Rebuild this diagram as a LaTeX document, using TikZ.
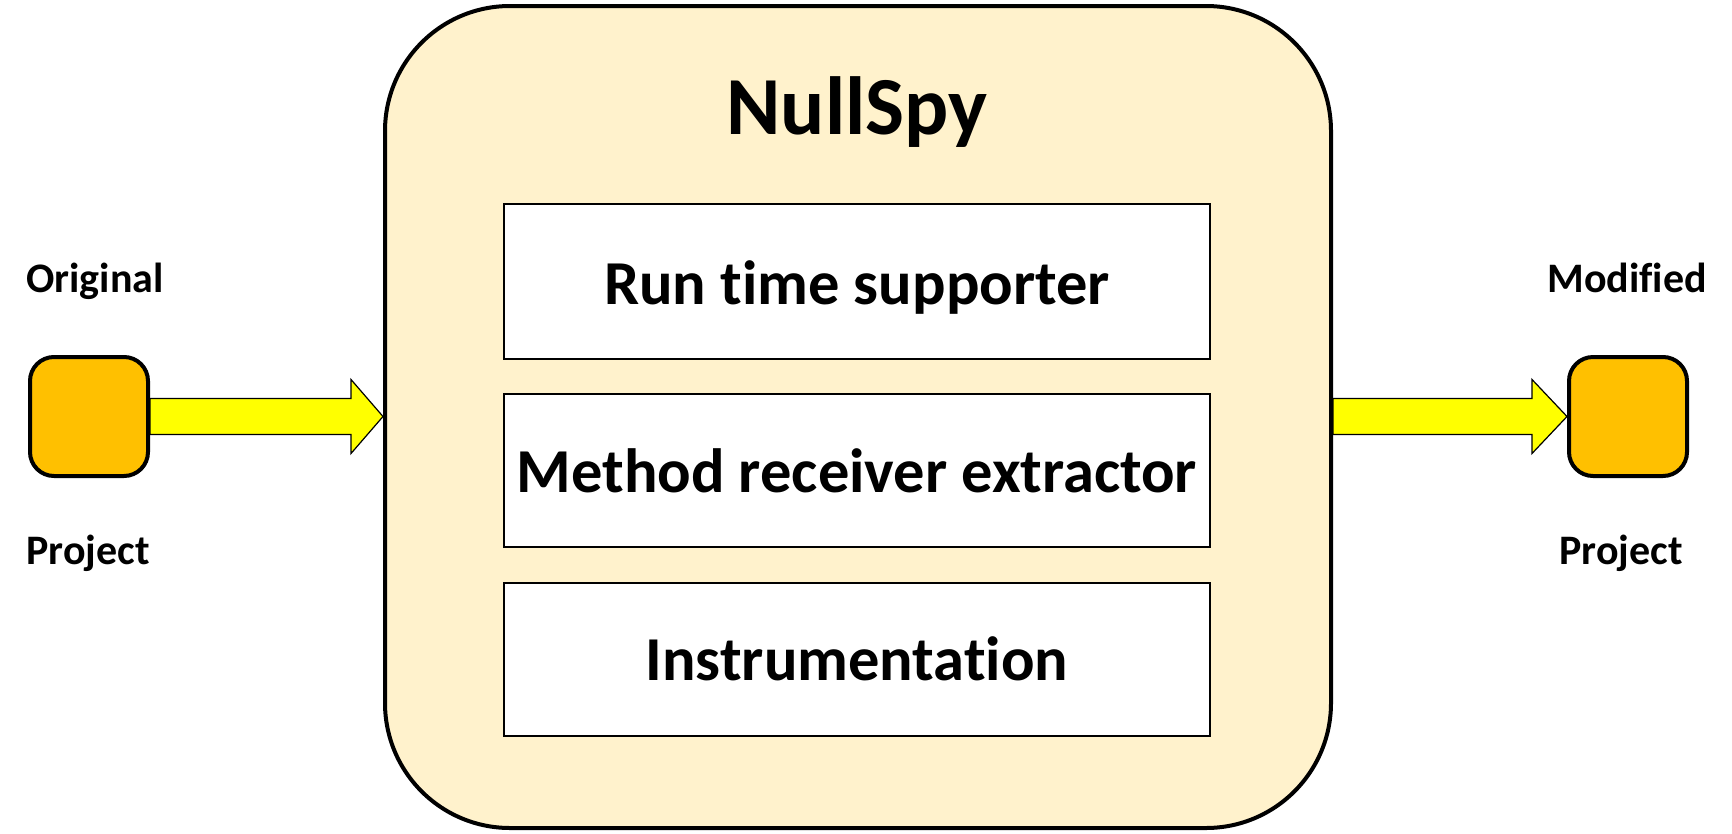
\documentclass[tikz,border=0pt]{standalone}
\usepackage{fontspec}
\setmainfont{Carlito}[Ligatures=NoCommon]
\usetikzlibrary{calc}
\definecolor{panel}{HTML}{FFF2CC}
\definecolor{project}{HTML}{FFC000}
\definecolor{flow}{HTML}{FFFF00}
\tikzset{
  toolbox/.style={draw=black, line width=4pt, fill=panel, rounded corners=125pt,
    minimum width=946pt, minimum height=822pt, inner sep=0pt, outer sep=0pt},
  stage/.style={draw=black, line width=1.6pt, fill=white, minimum width=706pt,
    minimum height=153pt, inner sep=0pt, outer sep=0pt},
  % text boxes sized to the cap height, so the node centre is the cap centre
  stagetext/.style={inner sep=0pt, text height=39.4pt, text depth=0pt,
    font=\fontsize{62.5pt}{68pt}\selectfont\bfseries},
  titletext/.style={inner sep=0pt, text height=52pt, text depth=0pt,
    font=\fontsize{82.5pt}{90pt}\selectfont\bfseries},
  projbox/.style={draw=black, line width=4pt, fill=project, rounded corners=24pt,
    minimum width=118pt, minimum height=119pt, inner sep=0pt, outer sep=0pt},
  caption/.style={inner sep=0pt, text height=26.5pt, text depth=0pt,
    font=\fontsize{42pt}{46pt}\selectfont\bfseries},
  flowarrow/.style={draw=black, line width=1.2pt, fill=flow, line join=miter},
}
\begin{document}
\begin{tikzpicture}[x=1pt,y=-1pt]
  \useasboundingbox (0,0) rectangle (1732,833);

  % central tool panel with its three stages
  \node[toolbox] (nullspy) at (858,417) {};
  \node[titletext] (title) at (857,108) {NullSpy};
  \node[stage, minimum height=155pt] (runtime) at (857,281.5) {};
  \node[stage] (extractor) at (857,470.5) {};
  \node[stage] (instr) at (857,659.5) {};
  \node[stagetext] (runtimetext) at (857,285) {Run time supporter};
  \node[stagetext] (extractortext) at (857,473) {Method receiver extractor};
  \node[stagetext] (instrtext) at (857,661) {Instrumentation};

  % input and output projects
  \node[projbox] (orig) at (89,416.5) {};
  \node[projbox] (mod) at (1628,416.5) {};
  \node[caption] (origtop) at (95,279.5) {Original};
  \node[caption] (origbot) at (88,551) {Project};
  \node[caption] (modtop) at (1627,279.5) {Modified};
  \node[caption] (modbot) at (1621,551) {Project};

  % block arrows: project -> NullSpy -> project
  \path[flowarrow] let \p1=(orig.east), \p2=(nullspy.west) in
    (\x1+2pt,\y1+18pt) -- (\x2-34pt,\y1+18pt) -- (\x2-34pt,\y1+37pt) --
    (\x2-2pt,\y1) -- (\x2-34pt,\y1-37pt) -- (\x2-34pt,\y1-18pt) --
    (\x1+2pt,\y1-18pt) -- cycle;
  \path[flowarrow] let \p1=(nullspy.east), \p2=(mod.west) in
    (\x1+2pt,\y2+18pt) -- (\x2-37pt,\y2+18pt) -- (\x2-37pt,\y2+37pt) --
    (\x2-2pt,\y2) -- (\x2-37pt,\y2-37pt) -- (\x2-37pt,\y2-18pt) --
    (\x1+2pt,\y2-18pt) -- cycle;
\end{tikzpicture}
\end{document}
